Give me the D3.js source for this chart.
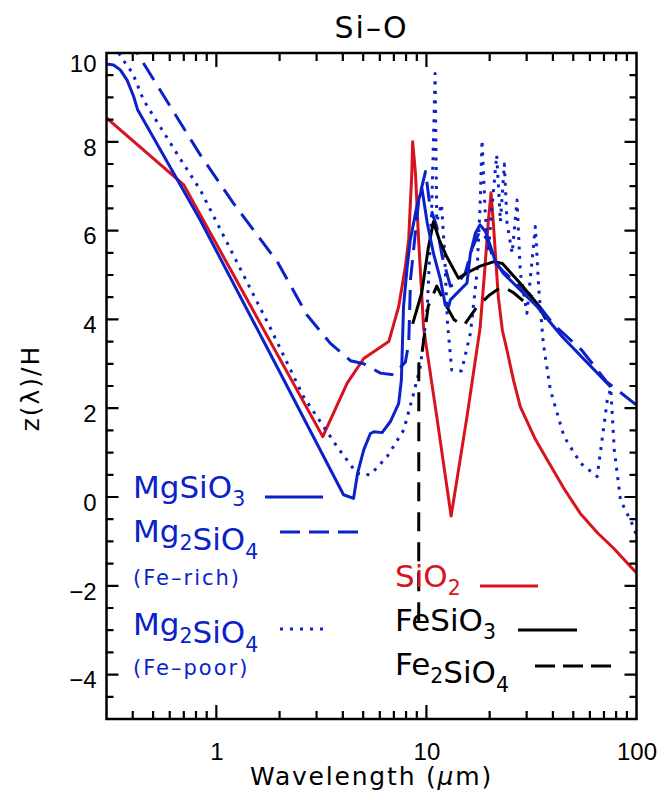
<!DOCTYPE html>
<html>
<head>
<meta charset="utf-8">
<script src="https://cdn.jsdelivr.net/npm/d3@7"></script>
<style>
  html, body { margin: 0; padding: 0; background: #fff; }
  svg { display: block; font-family: "DejaVu Sans", sans-serif; }
</style>
</head>
<body>
<svg id="chart" width="665" height="800"></svg>
<script>
// ---------------- DATA ----------------
const xTickValues = [1, 10, 100];
const yTickValues = [-4, -2, 0, 2, 4, 6, 8, 10];

// MgSiO3 (blue solid)
const mgsio3Lam = [0.30, 0.324, 0.349, 0.376, 0.404, 0.422, 0.838, 2.0, 4.03, 4.5, 4.7, 5.03, 5.41, 5.62, 6.15, 6.74, 7.38, 7.6, 7.78, 8.1, 8.38, 9.0, 9.52, 10.1, 10.8, 11.67, 12.3, 12.76, 13.0, 15.6, 16.2, 17.1, 18.0, 19.1, 20.2, 21.3, 23.2, 33.6, 44.3, 75.4];
const mgsio3Z   = [9.75, 9.73, 9.62, 9.39, 9.02, 8.72, 6.24, 2.82, 0.05, -0.03, 0.53, 1.06, 1.43, 1.47, 1.45, 1.70, 2.11, 2.64, 4.29, 5.19, 5.79, 6.54, 6.95, 6.16, 5.49, 4.89, 4.32, 4.29, 4.44, 4.82, 5.49, 5.94, 6.13, 5.98, 5.64, 5.30, 5.04, 4.29, 3.61, 2.48];

// Mg2SiO4 Fe-rich (blue dashed)
const mg2richLam = [0.40, 0.42, 0.84, 1.2, 1.95, 2.70, 3.49, 4.35, 5.03, 6.04, 6.99, 7.94, 8.24, 8.4, 9.2, 9.9, 10.4, 11.2, 11.9, 13.0, 14.0, 15.3, 16.5, 18.0, 19.5, 21.0, 23.0, 32.0, 40.0, 55.0, 72.0, 100];
const mg2richZ   = [10.4, 10.0, 7.70, 6.63, 5.30, 4.10, 3.46, 3.07, 3.00, 2.79, 2.75, 3.04, 3.47, 4.90, 6.70, 7.33, 6.54, 6.09, 5.41, 4.75, 4.80, 5.04, 5.60, 6.00, 5.80, 5.30, 5.10, 4.50, 3.90, 3.30, 2.60, 2.07];

// Mg2SiO4 Fe-poor (blue dotted)
const mg2poorLam = [0.343, 0.369, 0.40, 0.45, 0.54, 0.67, 0.84, 1.81, 2.6, 3.76, 4.67, 5.41, 6.5, 7.8, 8.7, 9.35, 9.7, 10.1, 10.6, 11.0, 11.2, 11.8, 12.2, 12.6, 13.2, 14.7, 16.2, 17.4, 18.0, 18.4, 19.0, 19.7, 20.5, 21.6, 22.5, 23.5, 24.2, 25.6, 27.0, 28.0, 30.1, 33.0, 34.3, 36.0, 38.9, 45.2, 54.2, 65.0, 72.6, 75.4, 78.4, 83.9, 95, 100];
const mg2poorZ   = [10.0, 9.77, 9.54, 8.94, 8.34, 7.63, 6.91, 3.80, 2.26, 1.13, 0.53, 0.50, 0.91, 1.51, 2.34, 2.93, 3.54, 4.29, 6.50, 9.54, 6.20, 6.60, 5.50, 3.90, 2.86, 2.84, 3.69, 5.04, 6.54, 8.04, 6.50, 5.50, 6.50, 7.70, 6.20, 7.50, 6.16, 5.49, 6.69, 5.04, 4.14, 6.09, 4.66, 3.46, 2.41, 1.36, 0.76, 0.46, 2.18, 2.45, 1.06, -0.07, -0.59, -0.86];

// SiO2 (red solid)
const sio2Lam = [0.30, 0.70, 3.21, 4.19, 5.03, 6.62, 7.38, 7.94, 8.23, 8.52, 8.60, 8.87, 9.18, 9.70, 11.2, 13.11, 15.6, 18.0, 18.9, 19.7, 20.3, 20.8, 21.6, 22.0, 23.0, 24.2, 26.0, 28.0, 33.0, 38.0, 45.0, 54.0, 65.0, 78.0, 100];
const sio2Z   = [8.54, 7.03, 1.36, 2.56, 3.12, 3.50, 4.29, 5.19, 5.79, 7.30, 8.00, 7.29, 5.79, 3.80, 1.81, -0.43, 1.81, 3.80, 5.04, 6.20, 6.85, 6.20, 5.04, 4.50, 3.75, 3.30, 2.62, 2.03, 1.30, 0.80, 0.20, -0.37, -0.80, -1.16, -1.71];

// FeSiO3 (black solid)
const fesio3Lam = [8.6, 9.5, 10.2, 10.8, 11.5, 12.5, 14.2, 15.5, 18.0, 21.0, 23.0, 28.0, 33.6, 37.0];
const fesio3Z   = [3.9, 4.6, 5.6, 6.2, 5.8, 5.41, 4.93, 5.04, 5.20, 5.30, 5.26, 4.81, 4.36, 4.00];

// Fe2SiO4 (black dashed)
const fe2sio4Lam = [9.19, 9.2, 9.5, 10.2, 11.2, 12.3, 13.5, 15.0, 17.5, 20.0, 23.0, 26.0, 30.0];
const fe2sio4Z   = [-2.8, 3.0, 3.2, 4.3, 4.75, 4.35, 4.0, 3.85, 4.3, 4.55, 4.75, 4.6, 4.35];

// ---------------- STYLE ----------------
const BLUE = "#0a22c8", RED = "#d7141e", BLACK = "#000";
const series = [
  { lam: sio2Lam,    z: sio2Z,    color: RED,   dash: null },
  { lam: mg2poorLam, z: mg2poorZ, color: BLUE,  dash: "3,6.5" },
  { lam: mg2richLam, z: mg2richZ, color: BLUE,  dash: "20,10" },
  { lam: fe2sio4Lam, z: fe2sio4Z, color: BLACK, dash: "19,11" },
  { lam: fesio3Lam,  z: fesio3Z,  color: BLACK, dash: null },
  { lam: mgsio3Lam,  z: mgsio3Z,  color: BLUE,  dash: null }
];

const svg = d3.select("#chart");
const L = 106.5, R = 636.5, T = 53, B = 719;
const x = d3.scaleLog().domain([0.3, 100]).range([L, R]);
const y = d3.scaleLinear().domain([-5, 10]).range([B, T]);

svg.append("defs").append("clipPath").attr("id", "clip")
  .append("rect").attr("x", L).attr("y", T).attr("width", R - L).attr("height", B - T);

const line = d3.line().x(d => x(d[0])).y(d => y(d[1]));
const g = svg.append("g").attr("clip-path", "url(#clip)");
series.forEach(s => {
  const pts = s.lam.map((l, i) => [l, s.z[i]]);
  g.append("path").attr("d", line(pts))
    .attr("fill", "none").attr("stroke", s.color).attr("stroke-width", 3)
    .attr("stroke-linejoin", "round")
    .attr("stroke-dasharray", s.dash);
});

// ---------------- AXES ----------------
const minorX = [];
[0.1, 1, 10].forEach(d => { for (let k = 2; k <= 9; k++) { const v = +(d * k).toFixed(2); if (v > 0.3 && v < 100) minorX.push(v); } });
const minorY = d3.range(-5, 10.01, 0.5).filter(v => v % 2 !== 0 && v > -5 && v < 10);

// tick marks drawn as one path per side, positions from the scales
function tickPath(vals, fn) { return vals.map(fn).join(" "); }
const xMaj = xTickValues.filter(v => v < 100), yMaj = yTickValues.filter(v => v < 10);
const tickD = [
  tickPath(xMaj,   v => `M${x(v)},${B}V${B - 14}`),
  tickPath(minorX, v => `M${x(v)},${B}V${B - 8}`),
  tickPath(xMaj,   v => `M${x(v)},${T}V${T + 14}`),
  tickPath(minorX, v => `M${x(v)},${T}V${T + 8}`),
  tickPath(yMaj,   v => `M${L},${y(v)}H${L + 12}`),
  tickPath(minorY, v => `M${L},${y(v)}H${L + 7}`),
  tickPath(yMaj,   v => `M${R},${y(v)}H${R - 12}`),
  tickPath(minorY, v => `M${R},${y(v)}H${R - 7}`)
].join(" ");
svg.append("path").attr("d", tickD).attr("fill", "none").attr("stroke", "#000").attr("stroke-width", 2.2);

function styleAxis(sel) {
  sel.select(".domain").remove();
  sel.selectAll(".tick line").remove();
  sel.selectAll("text").attr("fill", "#000").attr("font-size", 24);
}
// tick labels through d3 axes
svg.append("g").attr("transform", `translate(0,${B})`)
  .call(d3.axisBottom(x).tickValues(xTickValues).tickFormat(d3.format("d")).tickSize(0).tickPadding(24))
  .call(styleAxis);
const yl = svg.append("g").attr("transform", `translate(${L},0)`)
  .call(d3.axisLeft(y).tickValues(yTickValues).tickFormat(d3.format("d")).tickSize(0).tickPadding(10))
  .call(styleAxis);
yl.selectAll("text").attr("dy", d => d === 10 ? "0.78em" : "0.55em");

// frame
svg.append("rect").attr("x", L).attr("y", T).attr("width", R - L).attr("height", B - T)
  .attr("fill", "none").attr("stroke", "#000").attr("stroke-width", 2.5);

// ---------------- TITLES ----------------
svg.append("text").attr("x", (L + R) / 2).attr("y", 38).attr("text-anchor", "middle")
  .attr("font-size", 30).attr("letter-spacing", 2).text("Si–O");

const xt = svg.append("text").attr("x", (L + R) / 2).attr("y", 785).attr("text-anchor", "middle")
  .attr("font-size", 25).attr("letter-spacing", 1.8);
xt.append("tspan").text("Wavelength (");
xt.append("tspan").attr("font-style", "italic").text("μ");
xt.append("tspan").text("m)");

svg.append("text").attr("transform", "translate(39,388) rotate(-90)").attr("text-anchor", "middle")
  .attr("font-size", 25).attr("letter-spacing", 2).text("z(λ)/H");

// ---------------- LEGEND ----------------
function formula(parent, xPos, yPos, parts, color, size) {
  const t = parent.append("text").attr("x", xPos).attr("y", yPos).attr("fill", color).attr("font-size", size);
  parts.forEach(p => {
    if (typeof p === "string") t.append("tspan").text(p);
    else {
      t.append("tspan").attr("dy", size * 0.27).attr("font-size", size * 0.66).text(p.sub);
      t.append("tspan").attr("dy", -size * 0.27).text("");
    }
  });
  return t;
}
const leg = svg.append("g");
const legendItems = [
  { parts: ["MgSiO", { sub: "3" }], x: 133, y: 498, color: BLUE, size: 31, line: [265, 323, 497], dash: null },
  { parts: ["Mg", { sub: "2" }, "SiO", { sub: "4" }], x: 133, y: 542, color: BLUE, size: 31, line: [280, 358, 532], dash: "20,9" },
  { parts: ["Mg", { sub: "2" }, "SiO", { sub: "4" }], x: 133, y: 635, color: BLUE, size: 31, line: [280, 330, 629], dash: "3,7" },
  { parts: ["SiO", { sub: "2" }], x: 395, y: 587, color: RED, size: 31, line: [480, 538, 586], dash: null },
  { parts: ["FeSiO", { sub: "3" }], x: 395, y: 631, color: BLACK, size: 31, line: [518, 577, 630], dash: null },
  { parts: ["Fe", { sub: "2" }, "SiO", { sub: "4" }], x: 395, y: 675, color: BLACK, size: 31, line: [535, 611, 666], dash: "20,8" }
];
const legendNotes = [
  { text: "(Fe–rich)", x: 133, y: 585 },
  { text: "(Fe–poor)", x: 133, y: 675 }
];
legendItems.forEach(it => {
  formula(leg, it.x, it.y, it.parts, it.color, it.size);
  leg.append("line").attr("x1", it.line[0]).attr("x2", it.line[1]).attr("y1", it.line[2]).attr("y2", it.line[2])
    .attr("stroke", it.color).attr("stroke-width", 3).attr("stroke-dasharray", it.dash);
});
legendNotes.forEach(n => {
  leg.append("text").attr("x", n.x).attr("y", n.y).attr("fill", BLUE).attr("font-size", 21)
    .attr("letter-spacing", 2).text(n.text);
});
</script>
</body>
</html>
